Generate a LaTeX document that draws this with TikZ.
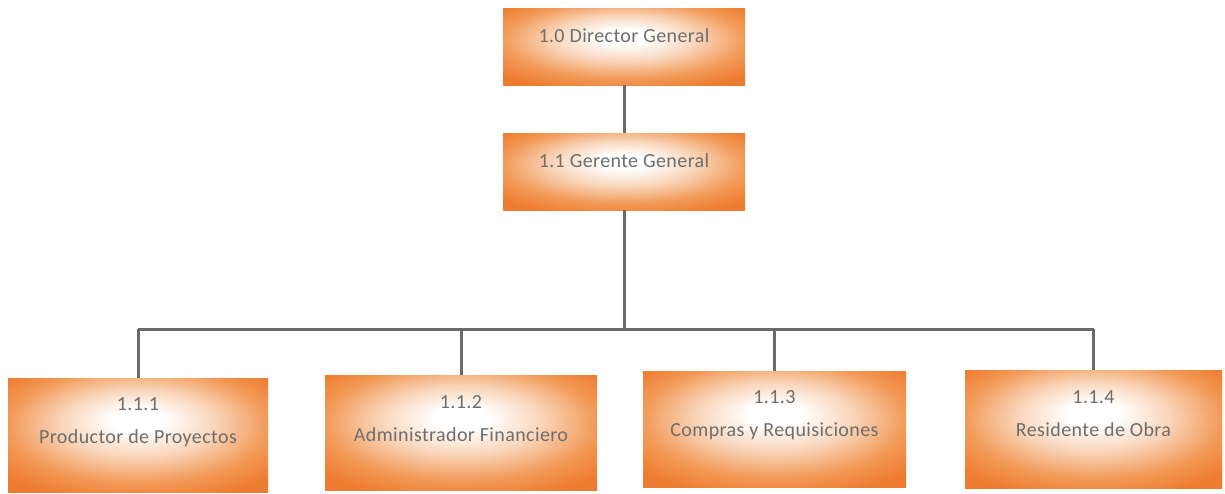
\documentclass[tikz,border=0pt]{standalone}
\usepackage{fontspec}
\setmainfont{Carlito}[LetterSpace=2]
\definecolor{oEdge}{HTML}{EE7C30}
\definecolor{oMid}{HTML}{F29A58}
\definecolor{oLight}{HTML}{F9D4B8}
\definecolor{txtgray}{HTML}{6E6E6E}
\definecolor{linegray}{HTML}{6A6A6A}
% soft glow: pale spot near the upper middle, fading to orange at the sides
\pgfdeclareradialshading{boxglow}{\pgfpoint{0bp}{7bp}}{%
  color(0bp)=(white); color(5bp)=(white); color(15bp)=(oLight);
  color(25bp)=(oMid); color(33bp)=(oEdge); color(60bp)=(oEdge)}
\tikzset{
  box/.style={shade, shading=boxglow, draw=none, inner sep=0pt},
  lbl/.style={text=txtgray, font=\fontsize{20}{33}\selectfont, align=center, inner sep=0pt},
  conn/.style={draw=linegray, line width=3pt}
}
\begin{document}
\begin{tikzpicture}[x=1pt, y=-1pt]
  \fill[white] (0,0) rectangle (1225,493);
  \useasboundingbox (0,0) rectangle (1225,493);

  % boxes
  \node[box, minimum width=242pt, minimum height=77pt] (d10) at (624,46.5) {};
  \node[box, minimum width=242pt, minimum height=77pt] (g11) at (624,171.5) {};
  \node[box, minimum width=260pt, minimum height=114pt] (b1) at (138,435) {};
  \node[box, minimum width=272pt, minimum height=115pt] (b2) at (461,432.5) {};
  \node[box, minimum width=263pt, minimum height=116pt] (b3) at (774.5,429) {};
  \node[box, minimum width=257pt, minimum height=118pt] (b4) at (1093.5,429) {};

  % labels
  \node[lbl] (d10t) at ([yshift=-28pt]d10.north) {1.0 Director General};
  \node[lbl] (g11t) at ([yshift=-28pt]g11.north) {1.1 Gerente General};
  \node[lbl] (b1t) at ([yshift=-44pt]b1.north) {1.1.1\\Productor de Proyectos};
  \node[lbl] (b2t) at ([yshift=-44pt]b2.north) {1.1.2\\Administrador Financiero};
  \node[lbl] (b3t) at ([yshift=-44pt]b3.north) {1.1.3\\Compras y Requisiciones};
  \node[lbl] (b4t) at ([yshift=-44pt]b4.north) {1.1.4\\Residente de Obra};

  % connectors
  \coordinate (bus) at (624,329);
  \draw[conn] (d10.south) -- (g11.north);
  \draw[conn] (g11.south) -- (bus);
  \draw[conn] (bus -| b1.north) -- (bus -| b4.north);
  \foreach \c in {b1,b2,b3,b4}
    \draw[conn] (bus -| \c.north) -- (\c.north);
\end{tikzpicture}
\end{document}
